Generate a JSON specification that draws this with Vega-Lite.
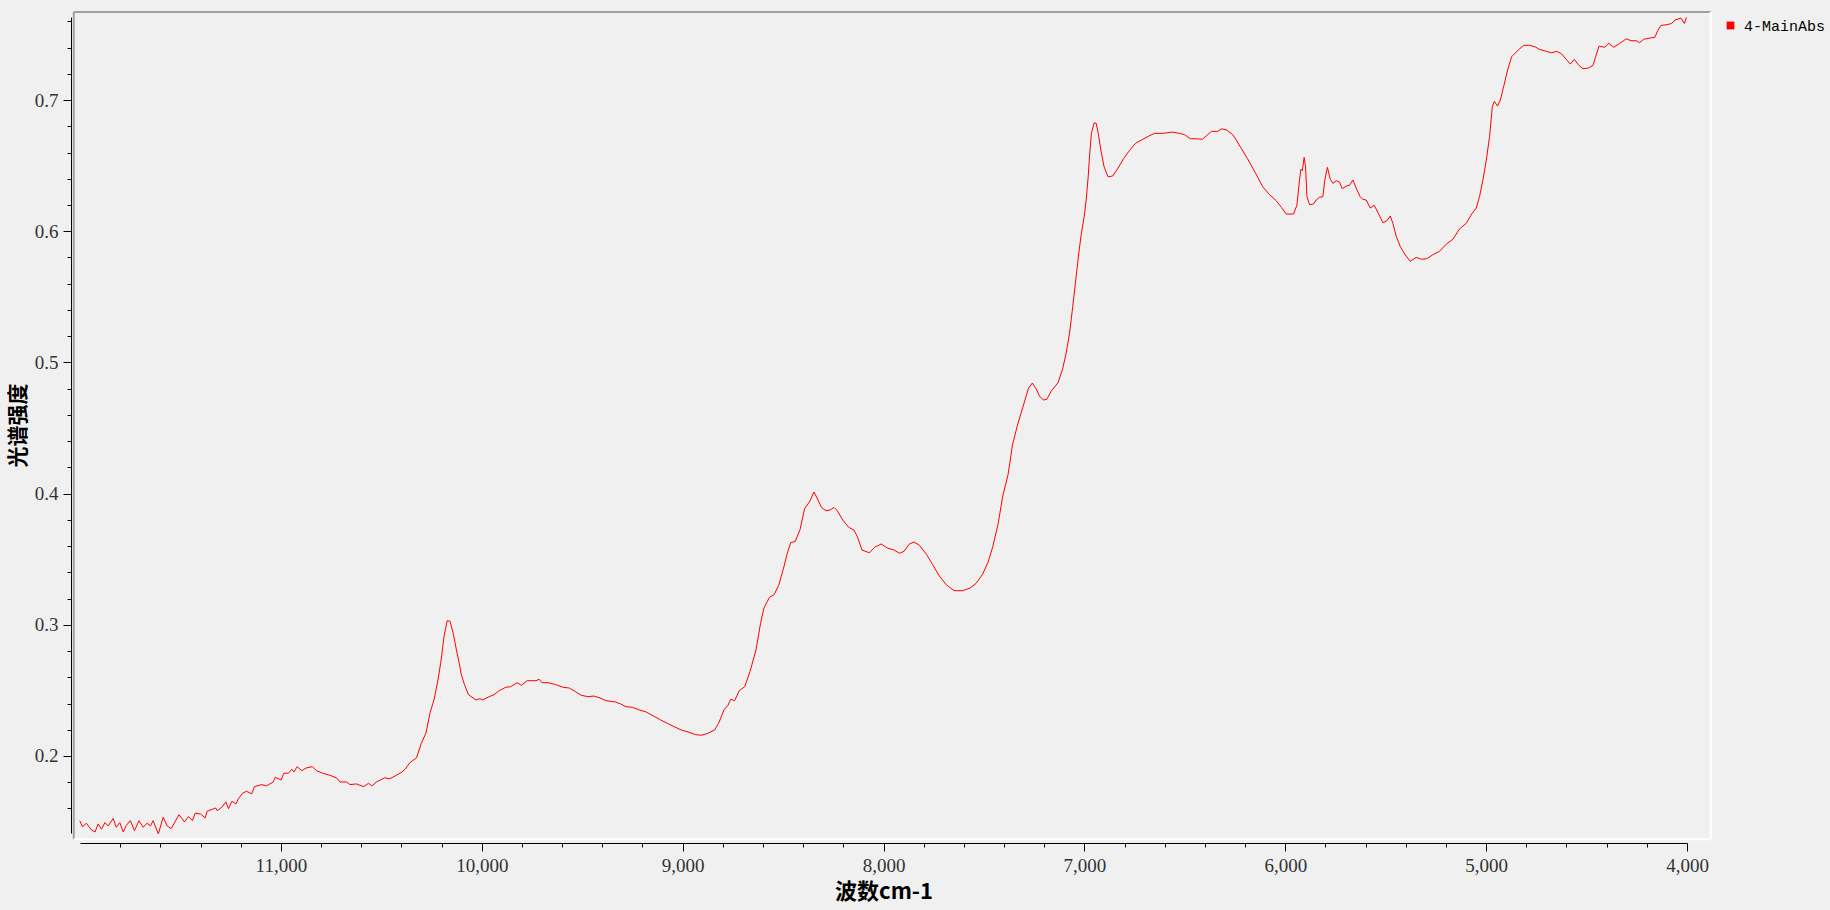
{
  "$schema": "https://vega.github.io/schema/vega-lite/v6.json",
  "width": 1607,
  "height": 816,
  "autosize": {"type": "none"},
  "padding": {"left": 80, "top": 17, "right": 143, "bottom": 77},
  "background": "#f0f0f0",
  "config": {
    "view": {"stroke": null},
    "axis": {"domainColor": "#000", "tickColor": "#000", "labelFont": "Liberation Serif", "labelFontSize": 19, "labelColor": "#333", "grid": false, "tickWidth": 1, "domainWidth": 1, "labelOverlap": false, "labelBound": false}
  },
  "layer": [
    {
      "data": {"values": [
        {"w":12001,"a":0.1507},{"w":11988,"a":0.1461},{"w":11968,"a":0.1487},{"w":11943,"a":0.1436},{"w":11925,"a":0.1421},{"w":11910,"a":0.1482},{"w":11893,"a":0.1442},{"w":11876,"a":0.1492},{"w":11860,"a":0.1467},{"w":11835,"a":0.1523},{"w":11819,"a":0.1457},{"w":11802,"a":0.1492},{"w":11785,"a":0.1421},{"w":11769,"a":0.1472},{"w":11749,"a":0.1507},{"w":11729,"a":0.1431},{"w":11706,"a":0.1507},{"w":11686,"a":0.1457},{"w":11666,"a":0.1487},{"w":11649,"a":0.1467},{"w":11636,"a":0.1507},{"w":11610,"a":0.1406},{"w":11586,"a":0.1533},{"w":11566,"a":0.1467},{"w":11546,"a":0.1446},{"w":11507,"a":0.1553},{"w":11480,"a":0.1497},{"w":11460,"a":0.1538},{"w":11440,"a":0.1507},{"w":11427,"a":0.1564},{"w":11400,"a":0.1558},{"w":11377,"a":0.1528},{"w":11367,"a":0.1579},{"w":11341,"a":0.1594},{"w":11324,"a":0.1604},{"w":11317,"a":0.1583},{"w":11294,"a":0.1609},{"w":11274,"a":0.1650},{"w":11261,"a":0.1599},{"w":11244,"a":0.1655},{"w":11224,"a":0.1634},{"w":11211,"a":0.1675},{"w":11191,"a":0.1716},{"w":11171,"a":0.1731},{"w":11145,"a":0.1711},{"w":11132,"a":0.1766},{"w":11095,"a":0.1782},{"w":11072,"a":0.1772},{"w":11038,"a":0.1802},{"w":11028,"a":0.1838},{"w":10999,"a":0.1817},{"w":10985,"a":0.1869},{"w":10962,"a":0.1869},{"w":10945,"a":0.1899},{"w":10935,"a":0.1878},{"w":10919,"a":0.1919},{"w":10896,"a":0.1888},{"w":10873,"a":0.1909},{"w":10843,"a":0.1919},{"w":10823,"a":0.1888},{"w":10793,"a":0.1869},{"w":10756,"a":0.1853},{"w":10723,"a":0.1833},{"w":10706,"a":0.1802},{"w":10673,"a":0.1802},{"w":10656,"a":0.1782},{"w":10624,"a":0.1787},{"w":10587,"a":0.1766},{"w":10564,"a":0.1792},{"w":10547,"a":0.1772},{"w":10524,"a":0.1802},{"w":10484,"a":0.1833},{"w":10457,"a":0.1827},{"w":10431,"a":0.1848},{"w":10397,"a":0.1878},{"w":10381,"a":0.1899},{"w":10358,"a":0.1949},{"w":10325,"a":0.1985},{"w":10301,"a":0.2097},{"w":10278,"a":0.2173},{"w":10258,"a":0.2326},{"w":10238,"a":0.2427},{"w":10218,"a":0.2579},{"w":10202,"a":0.2732},{"w":10188,"a":0.2910},{"w":10172,"a":0.3031},{"w":10158,"a":0.3027},{"w":10142,"a":0.2935},{"w":10126,"a":0.2808},{"w":10112,"a":0.2707},{"w":10102,"a":0.2620},{"w":10086,"a":0.2544},{"w":10066,"a":0.2467},{"w":10029,"a":0.2427},{"w":10009,"a":0.2437},{"w":9996,"a":0.2427},{"w":9963,"a":0.2452},{"w":9939,"a":0.2467},{"w":9913,"a":0.2498},{"w":9880,"a":0.2524},{"w":9857,"a":0.2528},{"w":9823,"a":0.2559},{"w":9803,"a":0.2539},{"w":9774,"a":0.2574},{"w":9730,"a":0.2574},{"w":9714,"a":0.2585},{"w":9700,"a":0.2559},{"w":9670,"a":0.2559},{"w":9631,"a":0.2544},{"w":9598,"a":0.2524},{"w":9564,"a":0.2518},{"w":9531,"a":0.2488},{"w":9505,"a":0.2463},{"w":9471,"a":0.2452},{"w":9441,"a":0.2457},{"w":9411,"a":0.2442},{"w":9382,"a":0.2422},{"w":9335,"a":0.2412},{"w":9309,"a":0.2397},{"w":9282,"a":0.2376},{"w":9249,"a":0.2371},{"w":9216,"a":0.2351},{"w":9182,"a":0.2336},{"w":9140,"a":0.2300},{"w":9110,"a":0.2275},{"w":9076,"a":0.2249},{"w":9043,"a":0.2224},{"w":9007,"a":0.2198},{"w":8973,"a":0.2183},{"w":8937,"a":0.2163},{"w":8907,"a":0.2158},{"w":8874,"a":0.2173},{"w":8841,"a":0.2198},{"w":8821,"a":0.2249},{"w":8794,"a":0.2351},{"w":8774,"a":0.2387},{"w":8761,"a":0.2432},{"w":8741,"a":0.2422},{"w":8718,"a":0.2498},{"w":8691,"a":0.2528},{"w":8664,"a":0.2646},{"w":8635,"a":0.2808},{"w":8612,"a":0.3011},{"w":8595,"a":0.3128},{"w":8568,"a":0.3209},{"w":8545,"a":0.3229},{"w":8522,"a":0.3300},{"w":8499,"a":0.3423},{"w":8479,"a":0.3545},{"w":8462,"a":0.3626},{"w":8439,"a":0.3636},{"w":8415,"a":0.3728},{"w":8393,"a":0.3885},{"w":8369,"a":0.3936},{"w":8346,"a":0.4012},{"w":8326,"a":0.3951},{"w":8309,"a":0.3895},{"w":8286,"a":0.3869},{"w":8266,"a":0.3875},{"w":8246,"a":0.3895},{"w":8230,"a":0.3869},{"w":8203,"a":0.3799},{"w":8173,"a":0.3743},{"w":8147,"a":0.3722},{"w":8130,"a":0.3671},{"w":8107,"a":0.3570},{"w":8070,"a":0.3549},{"w":8044,"a":0.3591},{"w":8011,"a":0.3616},{"w":7981,"a":0.3585},{"w":7947,"a":0.3570},{"w":7921,"a":0.3545},{"w":7898,"a":0.3560},{"w":7871,"a":0.3616},{"w":7848,"a":0.3631},{"w":7821,"a":0.3606},{"w":7785,"a":0.3534},{"w":7755,"a":0.3458},{"w":7722,"a":0.3372},{"w":7688,"a":0.3306},{"w":7649,"a":0.3260},{"w":7606,"a":0.3260},{"w":7569,"a":0.3280},{"w":7539,"a":0.3316},{"w":7506,"a":0.3387},{"w":7479,"a":0.3479},{"w":7456,"a":0.3595},{"w":7429,"a":0.3773},{"w":7407,"a":0.3976},{"w":7380,"a":0.4144},{"w":7358,"a":0.4370},{"w":7333,"a":0.4523},{"w":7303,"a":0.4675},{"w":7278,"a":0.4804},{"w":7259,"a":0.4843},{"w":7239,"a":0.4797},{"w":7224,"a":0.4744},{"w":7204,"a":0.4713},{"w":7187,"a":0.4719},{"w":7164,"a":0.4784},{"w":7131,"a":0.4845},{"w":7108,"a":0.4952},{"w":7091,"a":0.5069},{"w":7074,"a":0.5221},{"w":7058,"a":0.5424},{"w":7041,"a":0.5653},{"w":7028,"a":0.5832},{"w":7015,"a":0.5984},{"w":7001,"a":0.6111},{"w":6991,"a":0.6238},{"w":6981,"a":0.6415},{"w":6975,"a":0.6556},{"w":6965,"a":0.6746},{"w":6951,"a":0.6827},{"w":6941,"a":0.6822},{"w":6931,"a":0.6746},{"w":6918,"a":0.6619},{"w":6902,"a":0.6492},{"w":6882,"a":0.6415},{"w":6859,"a":0.6421},{"w":6832,"a":0.6482},{"w":6805,"a":0.6553},{"w":6776,"a":0.6614},{"w":6746,"a":0.6670},{"w":6709,"a":0.6701},{"w":6679,"a":0.6726},{"w":6650,"a":0.6746},{"w":6610,"a":0.6746},{"w":6563,"a":0.6756},{"w":6527,"a":0.6746},{"w":6500,"a":0.6735},{"w":6473,"a":0.6705},{"w":6443,"a":0.6705},{"w":6413,"a":0.6701},{"w":6394,"a":0.6726},{"w":6367,"a":0.6761},{"w":6337,"a":0.6761},{"w":6317,"a":0.6781},{"w":6291,"a":0.6771},{"w":6261,"a":0.6735},{"w":6244,"a":0.6695},{"w":6218,"a":0.6629},{"w":6188,"a":0.6553},{"w":6162,"a":0.6482},{"w":6135,"a":0.6406},{"w":6112,"a":0.6339},{"w":6078,"a":0.6278},{"w":6045,"a":0.6233},{"w":6019,"a":0.6182},{"w":5995,"a":0.6131},{"w":5959,"a":0.6131},{"w":5942,"a":0.6198},{"w":5929,"a":0.6390},{"w":5922,"a":0.6472},{"w":5915,"a":0.6461},{"w":5906,"a":0.6563},{"w":5899,"a":0.6492},{"w":5892,"a":0.6263},{"w":5879,"a":0.6202},{"w":5859,"a":0.6208},{"w":5846,"a":0.6238},{"w":5829,"a":0.6259},{"w":5813,"a":0.6263},{"w":5803,"a":0.6390},{"w":5790,"a":0.6487},{"w":5776,"a":0.6396},{"w":5763,"a":0.6365},{"w":5746,"a":0.6385},{"w":5730,"a":0.6375},{"w":5716,"a":0.6324},{"w":5696,"a":0.6345},{"w":5680,"a":0.6350},{"w":5663,"a":0.6390},{"w":5647,"a":0.6329},{"w":5627,"a":0.6263},{"w":5614,"a":0.6243},{"w":5597,"a":0.6238},{"w":5577,"a":0.6177},{"w":5557,"a":0.6198},{"w":5537,"a":0.6137},{"w":5514,"a":0.6065},{"w":5494,"a":0.6080},{"w":5477,"a":0.6116},{"w":5464,"a":0.6060},{"w":5447,"a":0.5958},{"w":5427,"a":0.5882},{"w":5405,"a":0.5826},{"w":5378,"a":0.5771},{"w":5348,"a":0.5801},{"w":5321,"a":0.5786},{"w":5295,"a":0.5791},{"w":5265,"a":0.5821},{"w":5232,"a":0.5847},{"w":5198,"a":0.5902},{"w":5166,"a":0.5938},{"w":5132,"a":0.6019},{"w":5099,"a":0.6060},{"w":5072,"a":0.6131},{"w":5049,"a":0.6177},{"w":5033,"a":0.6263},{"w":5016,"a":0.6390},{"w":4999,"a":0.6543},{"w":4983,"a":0.6720},{"w":4969,"a":0.6949},{"w":4959,"a":0.6990},{"w":4943,"a":0.6954},{"w":4929,"a":0.7000},{"w":4913,"a":0.7101},{"w":4893,"a":0.7229},{"w":4873,"a":0.7330},{"w":4840,"a":0.7381},{"w":4813,"a":0.7417},{"w":4784,"a":0.7417},{"w":4757,"a":0.7406},{"w":4734,"a":0.7386},{"w":4700,"a":0.7371},{"w":4674,"a":0.7360},{"w":4648,"a":0.7371},{"w":4624,"a":0.7351},{"w":4601,"a":0.7310},{"w":4581,"a":0.7274},{"w":4561,"a":0.7310},{"w":4541,"a":0.7269},{"w":4518,"a":0.7239},{"w":4491,"a":0.7244},{"w":4468,"a":0.7264},{"w":4455,"a":0.7330},{"w":4438,"a":0.7411},{"w":4409,"a":0.7402},{"w":4389,"a":0.7432},{"w":4365,"a":0.7402},{"w":4335,"a":0.7432},{"w":4302,"a":0.7467},{"w":4279,"a":0.7452},{"w":4252,"a":0.7452},{"w":4236,"a":0.7437},{"w":4216,"a":0.7463},{"w":4186,"a":0.7472},{"w":4160,"a":0.7478},{"w":4146,"a":0.7528},{"w":4130,"a":0.7569},{"w":4100,"a":0.7574},{"w":4076,"a":0.7584},{"w":4060,"a":0.7610},{"w":4030,"a":0.7625},{"w":4013,"a":0.7584},{"w":4003,"a":0.7630}
      ]},
      "mark": {"type": "line", "strokeWidth": 1, "interpolate": "linear"},
      "encoding": {
        "x": {
          "field": "w", "type": "quantitative",
          "scale": {"domain": [4000, 12000], "reverse": true, "nice": false, "zero": false},
          "axis": {
            "title": "波数cm-1", "titleFont": "Noto Sans CJK SC", "titleFontSize": 22, "titleFontWeight": "bold", "titleColor": "#000", "titlePadding": 6,
            "offset": 10, "tickCount": 200,
            "values": [11800,11600,11400,11200,11000,10800,10600,10400,10200,10000,9800,9600,9400,9200,9000,8800,8600,8400,8200,8000,7800,7600,7400,7200,7000,6800,6600,6400,6200,6000,5800,5600,5400,5200,5000,4800,4600,4400,4200,4000],
            "labelExpr": "datum.value % 1000 === 0 ? format(datum.value, ',') : ''",
            "tickSize": {"condition": {"test": "datum.value % 1000 === 0", "value": 8}, "value": 4},
            "labelPadding": 5, "labelFlush": false, "labelOverlap": false
          }
        },
        "y": {
          "field": "a", "type": "quantitative",
          "scale": {"domain": [0.1413, 0.7633], "nice": false, "zero": false},
          "axis": {
            "title": "光谱强度", "titleFont": "Noto Sans CJK SC", "titleFontSize": 21, "titleFontWeight": "bold", "titleColor": "#000", "titlePadding": 6,
            "offset": 9, "tickCount": 200,
            "values": [0.16,0.18,0.2,0.22,0.24,0.26,0.28,0.3,0.32,0.34,0.36,0.38,0.4,0.42,0.44,0.46,0.48,0.5,0.52,0.54,0.56,0.58,0.6,0.62,0.64,0.66,0.68,0.7,0.72,0.74,0.76],
            "labelExpr": "abs(datum.value * 10 - round(datum.value * 10)) < 0.001 ? format(datum.value, '.1f') : ''",
            "tickSize": {"condition": {"test": "abs(datum.value * 10 - round(datum.value * 10)) < 0.001", "value": 8}, "value": 4},
            "labelPadding": 5, "labelFlush": false, "labelOverlap": false
          }
        },
        "color": {
          "datum": "4-MainAbs",
          "scale": {"range": ["#ff0000"]},
          "legend": {"orient": "none", "legendX": 1643, "legendY": 1, "title": null, "symbolType": "square", "symbolSize": 60, "symbolFillColor": "#ff0000", "symbolStrokeColor": "#ff0000", "symbolStrokeWidth": 0, "labelFont": "Liberation Mono", "labelFontSize": 15, "labelColor": "#000", "padding": 0, "labelOffset": 6}
        }
      }
    },
    {
      "data": {"values": [{}]},
      "mark": {"type": "rule", "color": "#a0a0a0", "strokeWidth": 2},
      "encoding": {"x": {"datum": 12031}, "y": {"datum": 0.7671}, "y2": {"datum": 0.1365}}
    },
    {
      "data": {"values": [{}]},
      "mark": {"type": "rule", "color": "#a0a0a0", "strokeWidth": 2},
      "encoding": {"y": {"datum": 0.7671}, "x": {"datum": 12031}, "x2": {"datum": 3882}}
    },
    {
      "data": {"values": [{}]},
      "mark": {"type": "rule", "color": "#ffffff", "strokeWidth": 2},
      "encoding": {"x": {"datum": 3882}, "y": {"datum": 0.7671}, "y2": {"datum": 0.1365}}
    },
    {
      "data": {"values": [{}]},
      "mark": {"type": "rule", "color": "#ffffff", "strokeWidth": 2},
      "encoding": {"y": {"datum": 0.1365}, "x": {"datum": 12031}, "x2": {"datum": 3882}}
    }
  ]
}
